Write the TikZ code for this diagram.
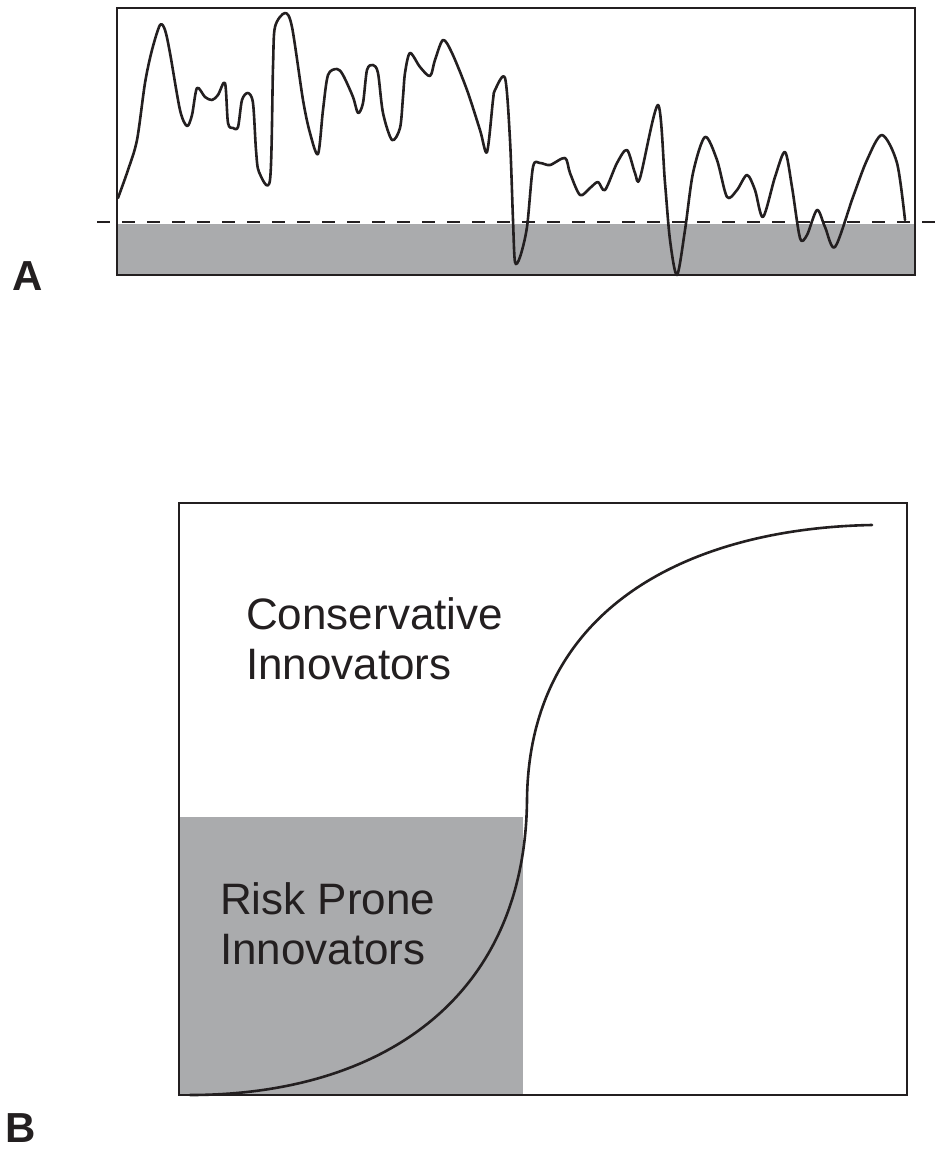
\documentclass[tikz,border=0pt]{standalone}
\usepackage{fontspec}
\setmainfont{Liberation Sans}
\definecolor{ink}{RGB}{35,31,32}
\definecolor{greyfill}{RGB}{170,171,173}
\tikzset{
  frame/.style={draw=ink, line width=2.5pt},
  curveline/.style={draw=ink, line width=2.6pt, line join=round, line cap=round},
  label/.style={text=ink, font=\fontsize{44}{50}\selectfont, inner sep=0pt, align=left, anchor=north west},
  panel/.style={text=ink, font=\fontsize{42}{42}\selectfont\bfseries, inner sep=0pt, anchor=base west}
}
\begin{document}
\begin{tikzpicture}[x=1pt,y=-1pt]
\useasboundingbox (0,0) rectangle (947,1149);
% ---------- Panel A ----------
\fill[greyfill] (117,224) rectangle (915,275);
\draw[ink, line width=2.7pt, dash pattern=on 13pt off 12pt] (97,222) -- (945,222);
\draw[curveline] plot[smooth, tension=0.5] coordinates {
(118,198) (128,170) (137,140) (145,83) (152,50) (160,25) (165,30) (170,53) (180,110) (187,126) (192,115) (197,88) (205,97) (212,100) (218,95) (225,83) (228,123) (233,128) (238,127) (242,100) (248,93) (253,103) (256,150) (259,172) (270,180) (273,67) (275,27) (285,13) (292,27) (303,100) (310,133) (318,154) (323,110) (328,75) (337,69) (343,75) (353,97) (358,113) (363,103) (367,70) (373,65) (378,73) (383,113) (392,140) (400,128) (403,97) (405,73) (410,53) (420,67) (430,76) (435,60) (443,40) (452,53) (467,90) (480,130) (487,152) (493,100) (495,90) (505,78) (510,140) (513,220) (515,262) (520,257) (527,227) (533,167) (540,163) (550,165) (565,158) (570,173) (580,195) (590,188) (598,182) (605,190) (617,163) (627,150) (635,173) (640,178) (658,105) (665,183) (670,240) (677,275) (685,230) (693,173) (705,137) (717,160) (727,197) (737,190) (747,175) (755,190) (763,217) (775,177) (785,152) (792,187) (800,238) (807,235) (817,210) (825,227) (835,247) (853,197) (867,160) (882,135) (897,163) (905,220)};
\draw[frame] (117,8) rectangle (915,275);
\node[panel] (labA) at (12,290) {A};
% ---------- Panel B ----------
\fill[greyfill] (179,817) rectangle (523,1095);
\draw[curveline] (190,1095) .. controls (380,1095) and (525,1000) .. (527,800)
                 .. controls (529,600) and (700,528) .. (872,525);
\draw[frame] (179,503) rectangle (907,1095);
\node[label] (cons) at (246,597) {Conservative\\Innovators};
\node[label] (risk) at (220,882) {Risk Prone\\Innovators};
\node[panel] (labB) at (5,1142) {B};
\end{tikzpicture}
\end{document}
